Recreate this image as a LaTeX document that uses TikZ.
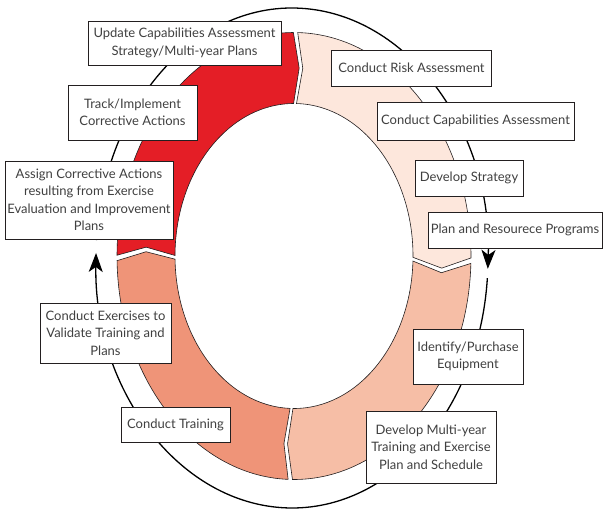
\documentclass[tikz,border=0pt]{standalone}
\usepackage{fontspec}
\setmainfont{Lato}
\usetikzlibrary{calc,arrows.meta}

\definecolor{ringred}{RGB}{228,30,38}
\definecolor{ringpale}{RGB}{253,231,220}
\definecolor{ringlight}{RGB}{246,190,166}
\definecolor{ringsalmon}{RGB}{239,148,120}
\definecolor{boxtext}{RGB}{64,64,64}
\definecolor{edgeline}{RGB}{35,31,32}

\tikzset{
  stagebox/.style={draw=edgeline, line width=0.8pt, fill=white, align=center,
    inner sep=1pt, text=boxtext, font=\fontsize{13}{17.5}\selectfont},
  ringline/.style={draw=edgeline, line width=0.6pt},
  cycleline/.style={draw=black, line width=1.3pt},
  cyclehead/.style={-{Stealth[length=19pt,width=14pt,inset=5pt]}}
}

% ring segment: fill, start angle, end angle, notch depth, tip depth
\newcommand{\ringseg}[5]{%
  \pgfmathsetmacro{\sa}{#2-0.7}%
  \pgfmathsetmacro{\ea}{#3+0.7}%
  \pgfmathsetmacro{\na}{\sa-#4}%
  \pgfmathsetmacro{\ta}{\ea-#5}%
  \path[ringline, fill=#1]
    ($(C)+(\sa:177pt and 223.5pt)$)
      arc[start angle=\sa, end angle=\ea, x radius=177pt, y radius=223.5pt]
    -- ($(C)+(\ta:148pt and 188pt)$)
    -- ($(C)+(\ea:119pt and 152.5pt)$)
      arc[start angle=\ea, end angle=\sa, x radius=119pt, y radius=152.5pt]
    -- ($(C)+(\na:148pt and 188pt)$) -- cycle;}

\begin{document}
\begin{tikzpicture}[x=1pt, y=-1pt]
\useasboundingbox (0,0) rectangle (603,511);

\coordinate (C) at (294,256);
\coordinate (E) at (292,258);

% outer cycle with two arrows
\draw[cycleline, cyclehead] ($(E)+(175.9:196pt and 250pt)$)
  arc[start angle=175.9, end angle=-2.5, x radius=196pt, y radius=250pt];
\draw[cycleline, cyclehead] ($(E)+(-4.6:196pt and 250pt)$)
  arc[start angle=-4.6, end angle=-181.15, x radius=196pt, y radius=250pt];

% ring
\ringseg{ringpale}{89.5}{-1.2}{2.2}{3.2}
\ringseg{ringlight}{-1.2}{-91.2}{3.2}{2.0}
\ringseg{ringsalmon}{-91.2}{-179.5}{2.0}{2.5}
\ringseg{ringred}{180.5}{89.5}{2.5}{2.2}

% stages
\node[stagebox, minimum width=193pt, minimum height=44pt] (upd) at (184.5,43)
  {Update Capabilities Assessment\\Strategy/Multi-year Plans};
\node[stagebox, minimum width=129pt, minimum height=55pt] (track) at (132.5,112.5)
  {Track/Implement\\Corrective Actions};
\node[stagebox, minimum width=168pt, minimum height=78pt] (assign) at (89,200)
  {Assign Corrective Actions\\resulting from Exercise\\Evaluation and Improvement\\Plans};
\node[stagebox, minimum width=131pt, minimum height=60pt] (exer) at (105.5,333)
  {Conduct Exercises to\\Validate Training and\\Plans};
\node[stagebox, minimum width=109pt, minimum height=35pt] (train) at (175.5,424.5)
  {Conduct Training};
\node[stagebox, minimum width=130pt, minimum height=72pt] (devplan) at (431,447)
  {Develop Multi-year\\Training and Exercise\\Plan and Schedule};
\node[stagebox, minimum width=110pt, minimum height=55pt] (equip) at (468,356.5)
  {Identify/Purchase\\Equipment};
\node[stagebox, minimum width=174pt, minimum height=36pt] (planres) at (515,230)
  {Plan and Resourece Programs};
\node[stagebox, minimum width=108pt, minimum height=36pt] (devstrat) at (469,178)
  {Develop Strategy};
\node[stagebox, minimum width=197pt, minimum height=38pt] (capas) at (475.5,121)
  {Conduct Capabilities Assessment};
\node[stagebox, minimum width=160pt, minimum height=36pt] (risk) at (411.5,68)
  {Conduct Risk Assessment};
\end{tikzpicture}
\end{document}
